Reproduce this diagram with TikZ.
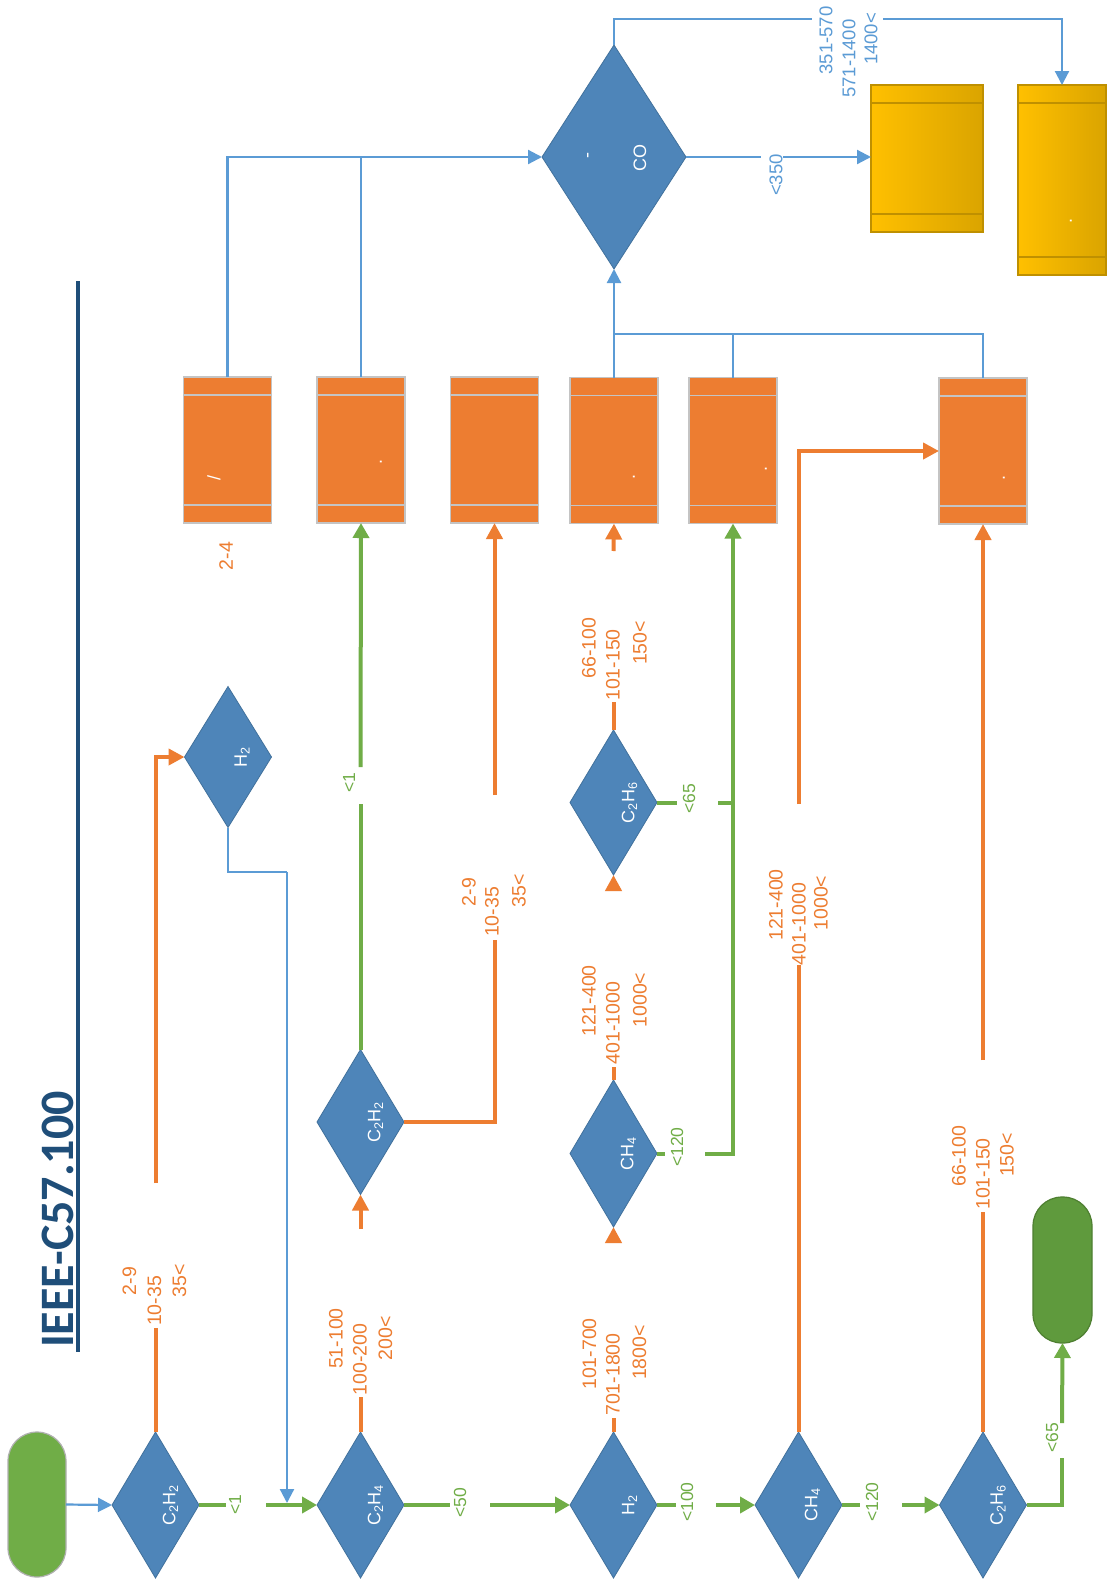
\documentclass[tikz,border=0pt]{standalone}
\usepackage{fontspec}
\setmainfont{Liberation Sans}
\newfontfamily\titlefont{Carlito}
\usetikzlibrary{shapes.geometric,arrows.meta}
\definecolor{org}{HTML}{ED7D31}
\definecolor{grn}{HTML}{70AD47}
\definecolor{blu}{HTML}{5B9BD5}
\definecolor{diafill}{HTML}{4E85B9}
\definecolor{diadraw}{HTML}{41719C}
\definecolor{boxgrey}{HTML}{C4C4C4}
\definecolor{titleblue}{HTML}{1F4E79}
\definecolor{gold1}{HTML}{FFC000}
\definecolor{gold2}{HTML}{DAA400}
\definecolor{goldline}{HTML}{BF9000}
\definecolor{endgrn}{HTML}{5F9A3D}
\definecolor{endline}{HTML}{4E7F31}
\definecolor{startline}{HTML}{B0B0B0}
\tikzset{
  dia/.style={diamond, fill=diafill, draw=diadraw, line width=0.8pt, inner sep=0pt, outer sep=0pt, minimum width=87pt, minimum height=146pt},
  proc/.style={rectangle, fill=org, draw=boxgrey, line width=1.5pt, minimum width=88pt, minimum height=146pt, inner sep=0pt, outer sep=0pt,
    path picture={\draw[boxgrey, line width=1.5pt]
      ([yshift=-18pt]path picture bounding box.north west) -- ([yshift=-18pt]path picture bounding box.north east)
      ([yshift=18pt]path picture bounding box.south west) -- ([yshift=18pt]path picture bounding box.south east);}},
  goldbox/.style={rectangle, left color=gold1, right color=gold2, draw=goldline, line width=1.5pt, inner sep=0pt, outer sep=0pt,
    path picture={\draw[goldline, line width=1.5pt]
      ([yshift=-18pt]path picture bounding box.north west) -- ([yshift=-18pt]path picture bounding box.north east)
      ([yshift=18pt]path picture bounding box.south west) -- ([yshift=18pt]path picture bounding box.south east);}},
  gline/.style={draw=grn, line width=4pt},
  garrow/.style={gline, -{Triangle[length=15pt,width=16pt]}},
  oline/.style={draw=org, line width=4pt},
  oarrow/.style={oline, -{Triangle[length=16pt,width=16pt]}},
  bline/.style={draw=blu, line width=2.2pt},
  barrow/.style={bline, -{Triangle[length=14pt,width=14pt]}},
  olab/.style={text=org, font=\fontsize{19.5}{21}\selectfont, rotate=90, inner sep=0pt},
  glab/.style={text=grn, font=\fontsize{17.5}{19}\selectfont, rotate=90, inner sep=0pt},
  blab/.style={text=blu, font=\fontsize{18.5}{20}\selectfont, rotate=90, inner sep=0pt},
  dtext/.style={text=white, font=\fontsize{18}{19}\selectfont, rotate=90, inner sep=0pt},
  boxmark/.style={text=white, font=\fontsize{18}{19}\selectfont, rotate=90, inner sep=0pt},
}
\begin{document}
\begin{tikzpicture}[x=1pt, y=-1pt]
\fill[white] (0,0) rectangle (1113,1585);
\useasboundingbox (0,0) rectangle (1113,1585);

% title
\node[anchor=base west, rotate=90, inner sep=0pt, text=titleblue, font=\titlefont\bfseries\fontsize{48}{50}\selectfont] (title) at (73,1348) {IEEE-C57.100};
\draw[titleblue, line width=4pt] (78,281) -- (78,1352);

% terminators
\node[rectangle, rounded corners=29pt, fill=grn, draw=startline, line width=1.2pt, minimum width=58pt, minimum height=145pt, inner sep=0pt, outer sep=0pt] (start) at (37,1504.5) {};
\node[rectangle, rounded corners=29pt, fill=endgrn, draw=endline, line width=1.2pt, minimum width=59pt, minimum height=146pt, inner sep=0pt, outer sep=0pt] (end) at (1062.5,1270) {};

% decisions, row 1
\node[dia] (d1) at (155.5,1505) {};
\node[dia] (d2) at (360.5,1505) {};
\node[dia] (d3) at (613.5,1505) {};
\node[dia] (d4) at (798.5,1505) {};
\node[dia] (d5) at (983,1505) {};
% decisions, upper
\node[dia, minimum height=141pt] (u1) at (228,757) {};
\node[dia, minimum height=145pt] (u2) at (360.5,1122) {};
\node[dia, minimum height=147pt] (u3) at (613.5,1153.5) {};
\node[dia, minimum height=145pt] (u4) at (613.5,802.5) {};
\node[dia, minimum width=144pt, minimum height=224pt] (co) at (614,157) {};

% diamond texts
\node[dtext] (t1) at ([xshift=15pt]d1.center) {C\textsubscript{2}H\textsubscript{2}};
\node[dtext] (t2) at ([xshift=15pt]d2.center) {C\textsubscript{2}H\textsubscript{4}};
\node[dtext] (t3) at ([xshift=16pt]d3.center) {H\textsubscript{2}};
\node[dtext] (t4) at ([xshift=14pt]d4.center) {CH\textsubscript{4}};
\node[dtext] (t5) at ([xshift=15pt]d5.center) {C\textsubscript{2}H\textsubscript{6}};
\node[dtext] (t6) at ([xshift=14pt]u1.center) {H\textsubscript{2}};
\node[dtext] (t7) at ([xshift=15pt]u2.center) {C\textsubscript{2}H\textsubscript{2}};
\node[dtext] (t8) at ([xshift=15pt]u3.center) {CH\textsubscript{4}};
\node[dtext] (t9) at ([xshift=16pt]u4.center) {C\textsubscript{2}H\textsubscript{6}};
\node[dtext] (t10) at (640,158) {CO};
\node[dtext] (t11) at (590,155) {-};

% process boxes
\node[proc] (b1) at (227.5,450) {};
\node[proc] (b2) at (361,450) {};
\node[proc] (b3) at (494.5,450) {};
\node[proc] (b4) at (614,450.5) {};
\node[proc] (b5) at (733,450.5) {};
\node[proc] (b6) at (983,451) {};
\node[goldbox, minimum width=112pt, minimum height=147pt] (ya) at (927,158.5) {};
\node[goldbox, minimum width=88pt, minimum height=190pt] (yb) at (1062,180) {};

% marks inside boxes
\node[boxmark] (m1) at (214,478) {/};
\node[boxmark] (m2) at (381,462) {.};
\node[boxmark] (m3) at (634,477) {.};
\node[boxmark] (m4) at (766,469) {.};
\node[boxmark] (m5) at (1004,478) {.};
\node[boxmark] (m6) at (1071,221) {.};
\node[olab] (l0) at (226,556) {2-4};

% coordinates for label gaps
\coordinate (g1a) at (226,1505); \coordinate (g1b) at (266,1505);
\coordinate (g2a) at (450,1505); \coordinate (g2b) at (490,1505);
\coordinate (g3a) at (676,1505); \coordinate (g3b) at (716,1505);
\coordinate (g4a) at (860,1505); \coordinate (g4b) at (902,1505);
\coordinate (g5a) at (1062,1458); \coordinate (g5b) at (1062,1423);
\coordinate (g6a) at (360.5,804); \coordinate (g6b) at (360.5,767);
\coordinate (g7a) at (665,1153.5); \coordinate (g7b) at (705,1153.5);
\coordinate (g8a) at (677,802.5); \coordinate (g8b) at (718,802.5);
\coordinate (o1a) at (155.5,1328); \coordinate (o1b) at (155.5,1183);
\coordinate (o2a) at (360.5,1397); \coordinate (o2b) at (360.5,1229);
\coordinate (o3a) at (613.5,1418); \coordinate (o3b) at (613.5,1241);
\coordinate (o4a) at (798.5,965); \coordinate (o4b) at (798.5,804);
\coordinate (o5a) at (983,1212); \coordinate (o5b) at (983,1060);
\coordinate (o6a) at (494.5,940); \coordinate (o6b) at (494.5,795);
\coordinate (o7a) at (613.5,1067); \coordinate (o7b) at (613.5,890);
\coordinate (o8a) at (613.5,702); \coordinate (o8b) at (613.5,551);
\coordinate (h1) at (287,872); \coordinate (h2) at (287,1503);
\coordinate (c1) at (614,334);
\coordinate (c2a) at (761,157); \coordinate (c2b) at (783,157);
\coordinate (c3a) at (812,19); \coordinate (c3b) at (883,19);

% connectors
\draw[barrow] (start.east) -- (d1.west);
\draw[gline] (d1.east) -- (g1a); \draw[garrow] (g1b) -- (d2.west);
\draw[oline] (d1.north) -- (o1a); \draw[oarrow] (o1b) |- (u1.west);
\draw[bline] (u1.south) |- (h1); \draw[barrow] (h1) -- (h2);
\draw[gline] (d2.east) -- (g2a); \draw[garrow] (g2b) -- (d3.west);
\draw[oline] (d2.north) -- (o2a); \draw[oarrow] (o2b) -- (u2.south);
\draw[gline] (d3.east) -- (g3a); \draw[garrow] (g3b) -- (d4.west);
\draw[oline] (d3.north) -- (o3a); \draw[oarrow] (o3b) -- (u3.south);
\draw[gline] (d4.east) -- (g4a); \draw[garrow] (g4b) -- (d5.west);
\draw[oline] (d4.north) -- (o4a); \draw[oarrow] (o4b) |- (b6.west);
\draw[gline] (d5.east) -| (g5a); \draw[garrow] (g5b) -- (end.south);
\draw[oline] (d5.north) -- (o5a); \draw[oarrow] (o5b) -- (b6.south);
\draw[gline] (u2.north) -- (g6a); \draw[garrow] (g6b) -- (b2.south);
\draw[oline] (u2.east) -| (o6a); \draw[oarrow] (o6b) -- (b3.south);
\draw[oline] (u3.north) -- (o7a); \draw[oarrow] (o7b) -- (u4.south);
\draw[gline] (u3.east) -- (g7a); \draw[garrow] (g7b) -| (b5.south);
\draw[gline] (u4.east) -- (g8a); \draw[gline] (g8b) -- (g8b -| b5.south);
\draw[oline] (u4.north) -- (o8a); \draw[oarrow] (o8b) -- (b4.south);
\draw[barrow] (b1.north) |- (co.west);
\draw[bline] (b2.north) -- (b2.north |- co.west);
\draw[barrow] (b4.north) -- (co.south);
\draw[bline] (b5.north) |- (c1);
\draw[bline] (b6.north) |- (c1);
\draw[bline] (co.east) -- (c2a); \draw[barrow] (c2b) -- (c2b -| ya.west);
\draw[bline] (co.north) |- (c3a); \draw[barrow] (c3b) -| (yb.north);

% orange labels
\node[olab] (a1) at (129.5,1281) {2-9};
\node[olab] (a2) at (154.5,1301) {10-35};
\node[olab] (a3) at (179.5,1281) {35<};
\node[olab] (a4) at (336,1338.5) {51-100};
\node[olab] (a5) at (360,1359.5) {100-200};
\node[olab] (a6) at (385.5,1338.5) {200<};
\node[olab] (a7) at (589.5,1354) {101-700};
\node[olab] (a8) at (613,1374.5) {701-1800};
\node[olab] (a9) at (639.5,1352.5) {1800<};
\node[olab] (a10) at (776,905) {121-400};
\node[olab] (a11) at (799,924) {401-1000};
\node[olab] (a12) at (821,903) {1000<};
\node[olab] (a13) at (959,1156) {66-100};
\node[olab] (a14) at (983,1174) {101-150};
\node[olab] (a15) at (1007,1155) {150<};
\node[olab] (a16) at (469,892) {2-9};
\node[olab] (a17) at (492,912) {10-35};
\node[olab] (a18) at (519,891) {35<};
\node[olab] (a19) at (589,1001) {121-400};
\node[olab] (a20) at (613,1023) {401-1000};
\node[olab] (a21) at (640,1000) {1000<};
\node[olab] (a22) at (589,648) {66-100};
\node[olab] (a23) at (613,665) {101-150};
\node[olab] (a24) at (640,643) {150<};

% green labels
\node[glab] (e1) at (235,1505) {<1};
\node[glab] (e2) at (460,1503) {<50};
\node[glab] (e3) at (687,1502) {<100};
\node[glab] (e4) at (872,1502) {<120};
\node[glab] (e5) at (1052,1438) {<65};
\node[glab] (e6) at (349,783) {<1};
\node[glab] (e7) at (689,799) {<65};
\node[glab] (e8) at (677,1147) {<120};

% blue labels
\node[blab] (f1) at (776,175) {<350};
\node[blab] (f2) at (826,40.5) {351-570};
\node[blab] (f3) at (849,58.5) {571-1400};
\node[blab] (f4) at (871,39) {1400<};
\end{tikzpicture}
\end{document}
